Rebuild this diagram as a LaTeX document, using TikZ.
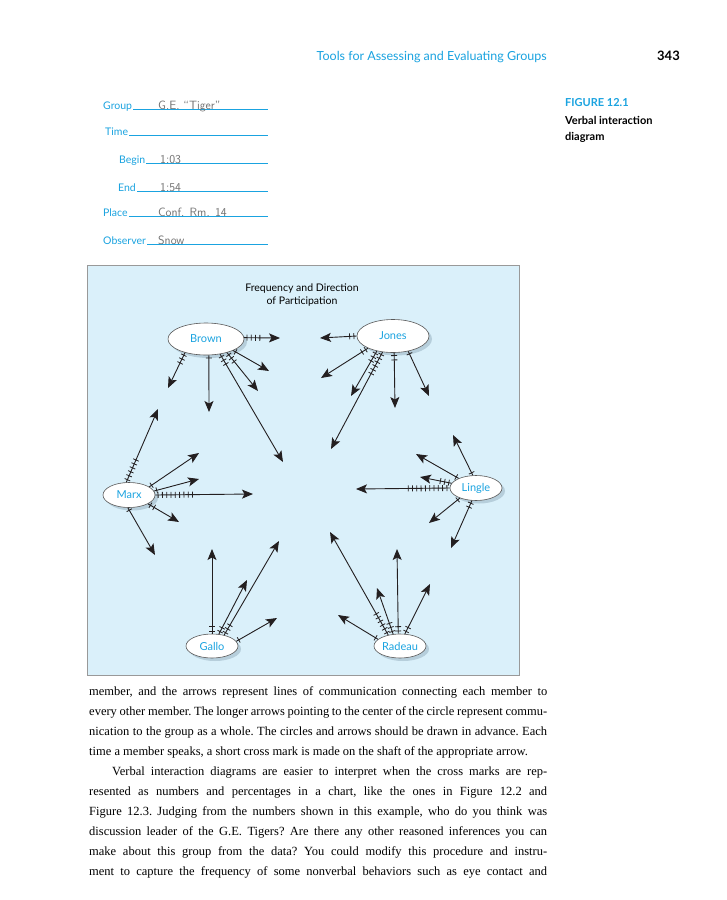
\documentclass[tikz,border=0pt]{standalone}
\usepackage{fontspec}
\setmainfont{Liberation Serif}
\newfontfamily\uifont{Lato}
\usepackage{xcolor}
\definecolor{uicyan}{HTML}{1AA3E0}
\definecolor{panel}{HTML}{DAF0FA}
\definecolor{shade}{HTML}{B6CEDB}
\definecolor{ink}{HTML}{231F20}
\definecolor{pencil}{HTML}{707070}
\usepackage{tikz}
\usetikzlibrary{arrows.meta, shapes.geometric, positioning, calc, shadows}

\newcommand\speak[3]{%
  \draw[talkline] (#1) -- (#2);
  \foreach \k in {1,...,#3}{%
    \pgfmathsetmacro\tickat{4.3*\k-1.5}
    \coordinate (tk) at ($(#1)!\tickat pt!(#2)$);
    \draw[tickmark] ($(tk)!3pt!90:(#2)$) -- ($(tk)!3pt!-90:(#2)$);
  }%
}

\begin{document}
\begin{tikzpicture}[x=1pt, y=-1pt,
  member/.style={ellipse, draw=gray!70!black, line width=0.6pt, fill=white, inner sep=0pt,
        font=\uifont\fontsize{11}{13}\selectfont, text=uicyan,
        drop shadow={shadow xshift=3pt, shadow yshift=-3pt, fill=shade, opacity=1}},
  formlabel/.style={anchor=base west, inner sep=0pt,
        font=\uifont\fontsize{10.5}{12}\selectfont, text=uicyan},
  formline/.style={draw=uicyan, line width=0.6pt},
  scrawl/.style={anchor=base west, inner sep=0pt,
        font=\sffamily\fontsize{12}{14}\selectfont, text=pencil},
  talkline/.style={draw=ink, line width=0.9pt,
        -{Stealth[length=11pt, width=9pt, inset=2.5pt]}},
  tickmark/.style={draw=ink, line width=0.8pt}]

  \fill[white] (0,0) rectangle (727,900);
  \useasboundingbox (0,0) rectangle (727,900);

  \node[anchor=base east, inner sep=0pt, text=uicyan,
        font=\uifont\fontsize{12.5}{14}\selectfont] (runhead) at (547,60)
        {Tools for Assessing and Evaluating Groups};
  \node[anchor=base east, inner sep=0pt,
        font=\uifont\bfseries\fontsize{13}{15}\selectfont] (folio) at (680,60)
        {343};

  \node[anchor=base west, inner sep=0pt, text=uicyan,
        font=\uifont\bfseries\fontsize{11}{13}\selectfont] (figno) at (565,106)
        {FIGURE 12.1};
  \node[anchor=base west, inner sep=0pt,
        font=\uifont\bfseries\fontsize{11}{13}\selectfont] (figtitle) at (565,124)
        {Verbal interaction};
  \node[anchor=base west, inner sep=0pt,
        font=\uifont\bfseries\fontsize{11}{13}\selectfont] (figtitle2) at (565,140)
        {diagram};

  \coordinate (formend) at (268,0);
  \foreach \nm/\lbl/\x/\y in {group/Group/103/109, time/Time/105/135,
      begin/Begin/119/163, end/End/118/191, place/Place/103/216,
      observer/Observer/103/244}{
    \node[formlabel] (l\nm) at (\x,\y) {\lbl};
    \draw[formline] ([xshift=1pt]l\nm.base east) -- (l\nm.base east -| formend);
  }
  \node[scrawl] (wgroup) at (158,109) {G.E. “Tiger”};
  \node[scrawl] (wbegin) at (160,163) {1:03};
  \node[scrawl] (wend) at (160,191) {1:54};
  \node[scrawl] (wplace) at (158,216) {Conf. Rm. 14};
  \node[scrawl] (wobserver) at (158,244) {Snow};

  \draw[fill=panel, draw=gray!80, line width=0.6pt] (87,265) rectangle (519,675);
  \node[anchor=north, inner sep=0pt, align=center,
        font=\uifont\fontsize{10.5}{13}\selectfont] (heading) at (302,284)
        {Frequency and Direction\\of Participation};

  \node[member, minimum width=76pt, minimum height=32pt] (brown) at (206,339) {Brown};
  \node[member, minimum width=72pt, minimum height=33pt] (jones) at (393,336) {Jones};
  \node[member, minimum width=52pt, minimum height=25pt] (marx) at (129,495) {Marx};
  \node[member, minimum width=52pt, minimum height=25pt] (lingle) at (476,488) {Lingle};
  \node[member, minimum width=52pt, minimum height=24pt] (gallo) at (212,646) {Gallo};
  \node[member, minimum width=52pt, minimum height=24pt] (radeau) at (400,646) {Radeau};

  \foreach \nm/\x/\y in {bJ/280/338, bM/168/388, bG/209/412, bC/283/462, bR/258/391, bL/269/371,
      jB/320/338, jM/321/378, jG/351/396, jC/331/449, jR/395/408, jL/429/396,
      mB/158/409, mJ/199/453, mL/199/479, mC/253/494, mR/179/522, mG/155/555,
      lC/356/489, lM/420/477, lB/416/454, lJ/453/435, lG/429/523, lR/451/548,
      gM/212/549, gJ/247/580, gC/279/541, gR/277/618,
      rC/330/532, rB/377/588, rJ/397/549, rL/430/584, rG/338/615}
    \coordinate (\nm) at (\x,\y);

  \foreach \from/\to/\n in {brown.2/bJ/4, brown.-147/bM/3, brown.-80/bG/1,
      brown.-47/bC/3, brown.-33/bR/3, brown.-23/bL/1,
      jones.180/jB/2, jones.-154/jM/2, jones.-137/jG/3, jones.-123/jC/6,
      jones.-86/jR/2, jones.-45/jL/1,
      marx.102/mB/6, marx.22/mJ/1, marx.9/mL/1, marx.0/mC/9, marx.-25/mR/2,
      marx.-95/mG/1,
      lingle.180/lC/10, lingle.169/lM/3, lingle.151/lB/1, lingle.104/lJ/1,
      lingle.-148/lG/1, lingle.-108/lR/2,
      gallo.90/gM/2, gallo.60/gJ/2, gallo.42/gC/3, gallo.11/gR/1,
      radeau.137/rC/6, radeau.120/rB/3, radeau.98/rJ/2, radeau.68/rL/2,
      radeau.163/rG/1}
    \speak{\from}{\to}{\n};

  \node[anchor=north west, inner sep=0pt, text width=458pt, align=justify,
        font=\fontsize{12.5}{20}\selectfont] (bodytext) at (89,686)
        {\frenchspacing\tolerance=10000
        member, and the arrows represent lines of communication connecting each member to\linebreak
        every other member. The longer arrows pointing to the center of the circle represent commu-\linebreak
        nication to the group as a whole. The circles and arrows should be drawn in advance. Each\linebreak
        time a member speaks, a short cross mark is made on the shaft of the appropriate arrow.\par
        \parfillskip=0pt\hspace*{23pt}Verbal interaction diagrams are easier to interpret when the cross marks are rep-\linebreak
        resented as numbers and percentages in a chart, like the ones in Figure 12.2 and\linebreak
        Figure 12.3. Judging from the numbers shown in this example, who do you think was\linebreak
        discussion leader of the G.E. Tigers? Are there any other reasoned inferences you can\linebreak
        make about this group from the data? You could modify this procedure and instru-\linebreak
        ment to capture the frequency of some nonverbal behaviors such as eye contact and\par};
\end{tikzpicture}
\end{document}
